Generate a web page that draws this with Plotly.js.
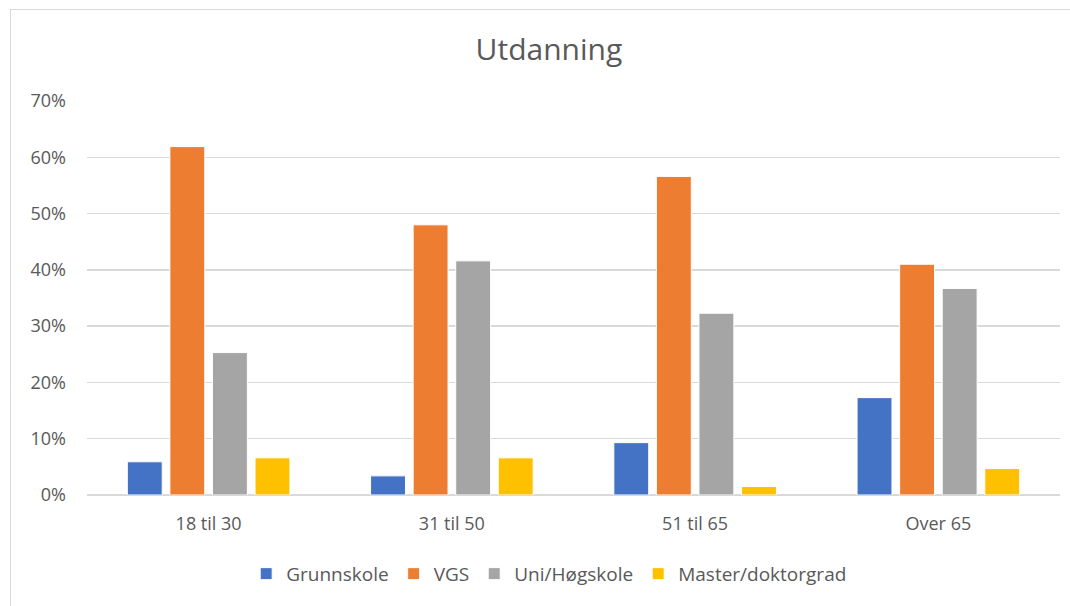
<!DOCTYPE html>
<html>
<head>
<meta charset="utf-8">
<script src="https://cdn.plot.ly/plotly-3.0.1.min.js"></script>
<style>
html,body{margin:0;padding:0;background:#fff;}
#frame{position:absolute;left:10px;top:9px;width:1080px;height:620px;border:1px solid #d9d9d9;box-sizing:border-box;}
#chart{position:absolute;left:0;top:0;width:1070px;height:606px;}
</style>
</head>
<body>
<div id="frame"></div>
<div id="chart"></div>
<script>
const categories = ["18 til 30", "31 til 50", "51 til 65", "Over 65"];
const seriesNames = ["Grunnskole", "VGS", "Uni/Høgskole", "Master/doktorgrad"];
const grunnskole = [5.9, 3.4, 9.3, 17.3];
const vgs = [61.9, 48.0, 56.6, 41.0];
const uniHogskole = [25.3, 41.6, 32.3, 36.7];
const master = [6.6, 6.6, 1.5, 4.7];
const colors = ["#4472C4", "#ED7D31", "#A5A5A5", "#FFC000"];
const yTicks = [0, 10, 20, 30, 40, 50, 60, 70];

const allSeries = [grunnskole, vgs, uniHogskole, master];
const traces = allSeries.map((vals, i) => ({
  type: "bar",
  name: seriesNames[i],
  x: categories,
  y: vals,
  marker: {color: colors[i], line: {color: "#ffffff", width: 1}},
  hoverinfo: "x+y+name"
}));

const font = "'Open Sans', 'Liberation Sans', sans-serif";
const layout = {
  width: 1070, height: 606,
  paper_bgcolor: "rgba(0,0,0,0)",
  plot_bgcolor: "rgba(0,0,0,0)",
  margin: {l: 87, r: 10, t: 101, b: 111},
  title: {text: "Utdanning", x: 0.513, xanchor: "center", y: 0.918, yanchor: "middle",
          font: {family: font, size: 30, color: "#595959"}},
  barmode: "group",
  bargap: 0.3,
  bargroupgap: 0.18,
  xaxis: {
    type: "category",
    tickfont: {family: font, size: 18, color: "#595959"},
    showgrid: false, showline: false, ticks: "", zeroline: false,
    ticklabelstandoff: 16
  },
  yaxis: {
    range: [0, 70],
    tickvals: yTicks,
    ticktext: yTicks.map(v => v + "%"),
    tickfont: {family: font, size: 18, color: "#595959"},
    gridcolor: "#d9d9d9", gridwidth: 1.5,
    zeroline: true, zerolinecolor: "#d9d9d9", zerolinewidth: 1.5,
    showline: false, ticks: "", ticklabelstandoff: 20
  },
  legend: {
    orientation: "h", x: 0.475, xanchor: "center", y: -0.2, yanchor: "middle",
    font: {family: font, size: 19, color: "#595959"},
    itemwidth: 30, traceorder: "normal"
  },
  showlegend: true
};

Plotly.newPlot("chart", traces, layout, {displayModeBar: false, staticPlot: true});
</script>
</body>
</html>
